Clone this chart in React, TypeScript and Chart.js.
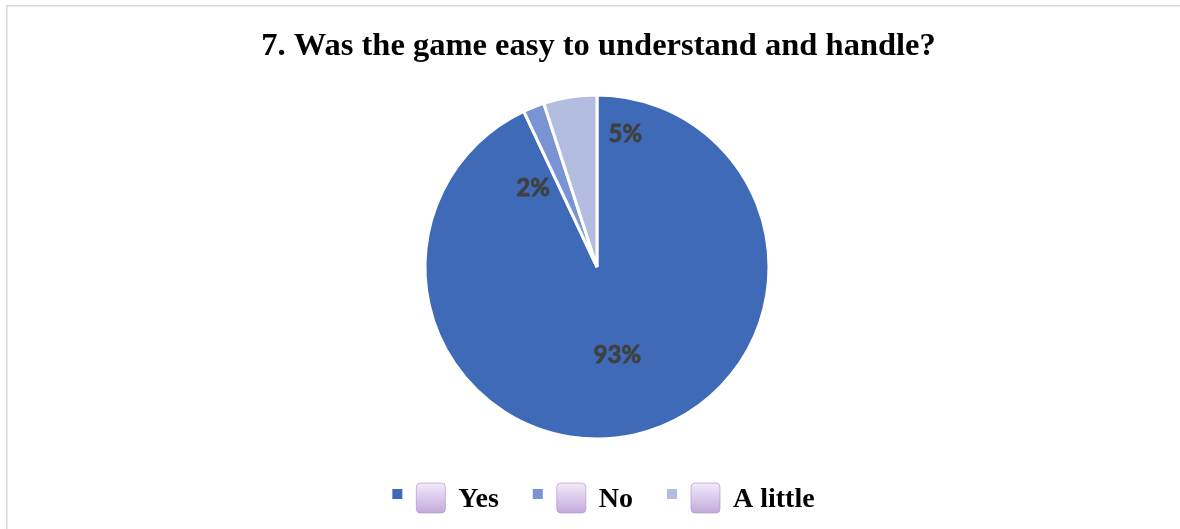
import React, { useEffect, useRef } from "react";
import { Chart, registerables } from "chart.js";

Chart.register(...registerables);

const title = "7. Was the game easy to understand and handle?";
const categories = ["Yes", "No", "A little"];
const values = [93, 2, 5];
const valueLabels = ["93%", "2%", "5%"];
const colors = ["#3E6AB7", "#7A93D3", "#B2BDE0"];

// label placement (degrees clockwise from top, fraction of radius)
const labelAngle = [167, 321, 12];
const labelRadius = [0.525, 0.59, 0.79];

const W = 1180;
const H = 529;

const decorPlugin = {
  id: "decor",
  beforeDraw(chart: any) {
    const ctx = chart.ctx;
    ctx.save();
    ctx.fillStyle = "#ffffff";
    ctx.fillRect(0, 0, W, H);
    ctx.fillStyle = "#D9D9D9";
    ctx.fillRect(6, 5, W - 6, 1.5);
    ctx.fillRect(6, 5, 1.5, H - 5);
    ctx.restore();
  },
  afterDraw(chart: any) {
    const ctx = chart.ctx;
    ctx.save();
    // title
    ctx.fillStyle = "#000000";
    ctx.font = "bold 32.5px 'Liberation Serif'";
    ctx.textAlign = "center";
    ctx.textBaseline = "alphabetic";
    ctx.fillText(title, 598.5, 55);

    // data labels
    const arc = chart.getDatasetMeta(0).data[0];
    const cx = arc.x;
    const cy = arc.y;
    const r = arc.outerRadius;
    ctx.font = "bold 24px Lato";
    ctx.fillStyle = "#404040";
    ctx.strokeStyle = "#404040";
    ctx.lineWidth = 0.8;
    ctx.textAlign = "center";
    ctx.textBaseline = "middle";
    valueLabels.forEach((t, i) => {
      const a = (labelAngle[i] * Math.PI) / 180;
      const x = cx + Math.sin(a) * r * labelRadius[i];
      const y = cy - Math.cos(a) * r * labelRadius[i];
      ctx.fillText(t, x, y);
      ctx.strokeText(t, x, y);
    });

    // legend
    ctx.font = "bold 28px 'Liberation Serif'";
    ctx.textAlign = "left";
    ctx.textBaseline = "alphabetic";
    const sq = 10;
    const gap1 = 14;
    const box = 29;
    const gap2 = 13;
    const itemGap = 34;
    const widths = categories.map((c) => ctx.measureText(c).width);
    let total = 0;
    widths.forEach((w, i) => {
      total += sq + gap1 + box + gap2 + w + (i < widths.length - 1 ? itemGap : 0);
    });
    let x = 603.5 - total / 2;
    categories.forEach((c, i) => {
      ctx.fillStyle = colors[i];
      ctx.fillRect(x, 489, sq, sq);
      x += sq + gap1;
      const g = ctx.createLinearGradient(0, 483, 0, 513);
      g.addColorStop(0, "#F3EAFB");
      g.addColorStop(1, "#C3ABDB");
      ctx.fillStyle = g;
      ctx.beginPath();
      (ctx as any).roundRect(x, 483, box, 30, 4);
      ctx.fill();
      ctx.strokeStyle = "rgba(170,140,205,0.6)";
      ctx.lineWidth = 1;
      ctx.stroke();
      x += box + gap2;
      ctx.fillStyle = "#000000";
      ctx.fillText(c, x, 507);
      x += widths[i] + itemGap;
    });
    ctx.restore();
  },
};

export default function App() {
  const ref = useRef<HTMLCanvasElement>(null);
  useEffect(() => {
    if (!ref.current) return;
    const chart = new Chart(ref.current, {
      type: "pie",
      data: {
        labels: categories,
        datasets: [
          {
            data: values,
            backgroundColor: colors,
            borderColor: "#ffffff",
            borderWidth: 3,
          },
        ],
      },
      options: {
        animation: false,
        responsive: false,
        radius: 172,
        layout: { padding: { left: 214, right: 200, top: 90, bottom: 85 } },
        plugins: {
          legend: { display: false },
          title: { display: false },
          tooltip: { enabled: false },
        },
      } as any,
      plugins: [decorPlugin],
    });
    return () => chart.destroy();
  }, []);
  return (
    <div style={{ position: "fixed", left: 0, top: 0, width: W, height: H }}>
      <canvas ref={ref} width={W} height={H} style={{ width: W, height: H }} />
    </div>
  );
}
